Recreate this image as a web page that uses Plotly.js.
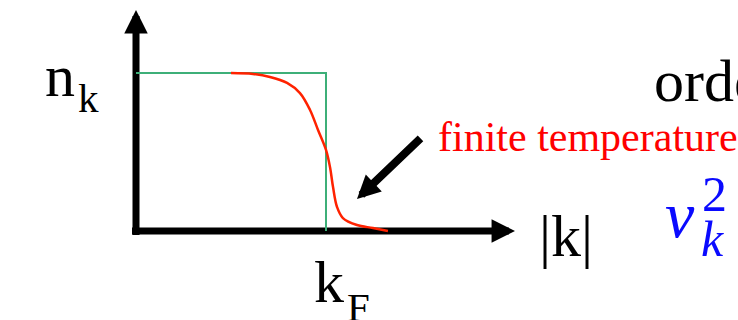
<!DOCTYPE html>
<html>
<head>
<meta charset="utf-8">
<script src="https://cdn.plot.ly/plotly-3.0.1.min.js"></script>
<style>html,body{margin:0;padding:0;background:#fff;}#chart{width:738px;height:320px;}</style>
</head>
<body>
<div id="chart"></div>
<script>
// ---- data (k in units of k_F, occupation n_k) ----
const stepK = [0, 1, 1];
const stepN = [1, 1, 0];
const fermiK = [0.50, 0.616, 0.705, 0.795, 0.863, 0.916, 0.958, 1.0, 1.021, 1.037, 1.058, 1.089, 1.163, 1.247, 1.326];
const fermiN = [1.0, 0.994, 0.975, 0.937, 0.873, 0.766, 0.639, 0.513, 0.405, 0.278, 0.152, 0.082, 0.038, 0.019, 0.0];
const labelN = "n";
const labelNSub = "k";
const labelK = "|k|";
const labelKF = "k";
const labelKFSub = "F";
const labelOrder = "order";
const labelFinite = "finite temperature";
const labelV = "v";
const labelVSup = "2";
const labelVSub = "k";

// ---- pixel helpers (layout only) ----
const X = px => (px - 136) / 190;
const Y = py => (231 - py) / 158;

const serif = "'Liberation Serif', 'Times New Roman', serif";

function txt(text, px, pyBaseline, size, color, style, fromTop) {
  return {
    text: text, x: X(px),
    y: fromTop ? Y(pyBaseline - 0.891 * size) : Y(pyBaseline + 0.216 * size),
    xref: 'x', yref: 'y',
    xanchor: 'left', yanchor: fromTop ? 'top' : 'bottom', showarrow: false,
    font: {family: serif, size: size, color: color || '#000', style: style || 'normal'}, borderpad: 0
  };
}

// axis shafts (drawn under the curves, as in the reference)
const axisShafts = [
  {x: [0, 0], y: [Y(235), Y(28)]},
  {x: [X(132), X(497)], y: [0, 0]}
].map(s => ({x: s.x, y: s.y, mode: 'lines', line: {color: '#000', width: 7}, hoverinfo: 'skip'}));

const traces = axisShafts.concat([
  {x: stepK, y: stepN, mode: 'lines', line: {color: '#3daf78', width: 2}, hoverinfo: 'skip'},
  {x: fermiK, y: fermiN, mode: 'lines', line: {color: '#ff2200', width: 2.5, shape: 'spline'}, hoverinfo: 'skip'}
]);

const arrows = [
  {x: 0, y: Y(10), ax: 0, ay: Y(34), w: 7, s: 0.67},
  {x: X(515), y: 0, ax: X(491), ay: 0, w: 7, s: 0.67},
  {x: X(357), y: Y(199), ax: X(422), ay: Y(137), w: 8, s: 0.58}
].map(a => ({
  x: a.x, y: a.y, ax: a.ax, ay: a.ay, xref: 'x', yref: 'y', axref: 'x', ayref: 'y',
  text: '', showarrow: true, arrowhead: 2, arrowwidth: a.w, arrowsize: a.s, arrowcolor: '#000'
}));

const blue = '#0a0aff';
const texts = [
  txt(labelN, 44, 97, 60),
  txt(labelNSub, 77, 113, 41),
  txt(labelK, 538, 257, 60),
  txt(labelKF, 313, 303, 60),
  txt(labelKFSub, 346, 320, 41, '#000', 'normal', true),
  txt(labelOrder, 653, 102, 60),
  txt(labelFinite, 437, 152, 42, '#ff0000'),
  txt(labelV, 664, 238, 66, blue, 'italic'),
  txt(labelVSup, 701, 212, 50, blue),
  txt(labelVSub, 700, 257, 50, blue, 'italic')
];

const layout = {
  width: 738, height: 320,
  margin: {l: 0, r: 0, t: 0, b: 0},
  paper_bgcolor: '#fff', plot_bgcolor: '#fff',
  showlegend: false,
  xaxis: {range: [X(0), X(738)], visible: false, showgrid: false, zeroline: false, fixedrange: true},
  yaxis: {range: [Y(320), Y(0)], visible: false, showgrid: false, zeroline: false, fixedrange: true},
  annotations: arrows.concat(texts)
};

Plotly.newPlot('chart', traces, layout, {staticPlot: true, displayModeBar: false});
</script>
</body>
</html>
